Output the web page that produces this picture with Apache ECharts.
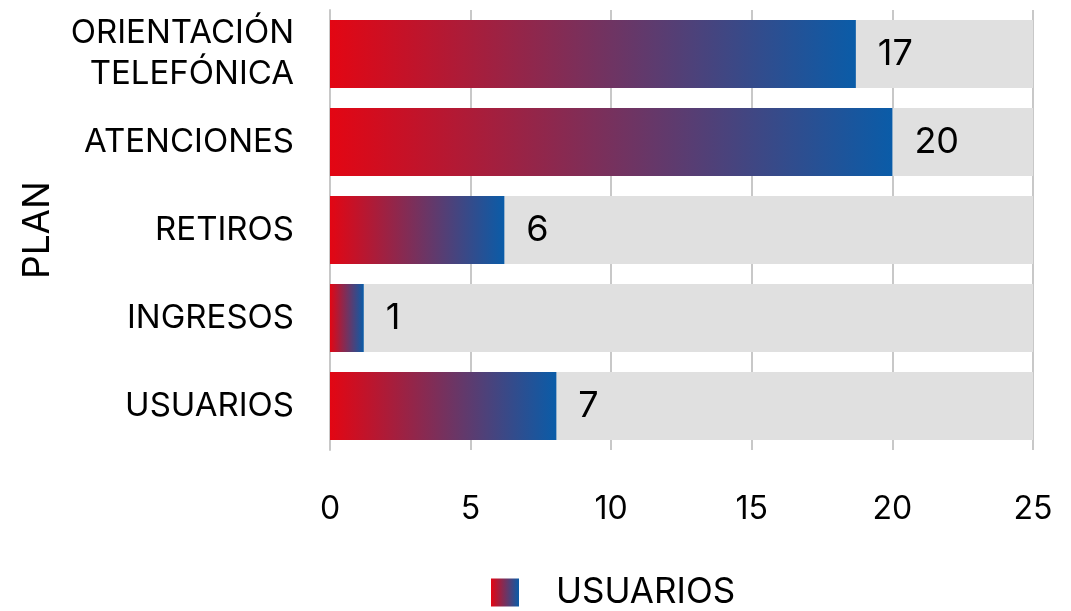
<!DOCTYPE html>
<html>
<head>
<meta charset="utf-8">
<script src="https://cdn.jsdelivr.net/npm/echarts@6/dist/echarts.min.js"></script>
<style>
  html, body { margin: 0; padding: 0; background: #fff; }
  #chart { width: 1071px; height: 611px; }
</style>
</head>
<body>
<div id="chart"></div>
<script>
// categories bottom -> top (category axis on y starts from the bottom)
const categories = ['USUARIOS', 'INGRESOS', 'RETIROS', 'ATENCIONES', 'ORIENTACIÓN\nTELEFÓNICA']
// bar lengths as drawn in the picture
const barValues = [8.05, 1.2, 6.2, 20, 18.7]
// numbers printed next to the bars
const barLabels = ['7', '1', '6', '20', '17']
const xTicks = [0, 5, 10, 15, 20, 25]
const seriesName = 'USUARIOS'

const font = 'Inter'
const gradient = new echarts.graphic.LinearGradient(0, 0, 1, 0, [
  { offset: 0, color: '#e30613' },
  { offset: 1, color: '#0a5ca8' }
])

let chart = echarts.init(document.getElementById('chart'))

let option = {
  animation: false,
  textStyle: { fontFamily: font },
  grid: {
    left: 330,
    right: 38,
    top: 10,
    height: 440
  },
  legend: {
    data: [seriesName],
    top: 575,
    left: 491,
    padding: 0,
    icon: 'rect',
    itemWidth: 28,
    itemHeight: 28,
    textStyle: {
      fontSize: 35,
      color: '#000',
      padding: [0, 0, 0, 32]
    }
  },
  xAxis: {
    type: 'value',
    min: xTicks[0],
    max: xTicks[xTicks.length - 1],
    interval: 5,
    axisLine: { show: false },
    axisTick: { show: false },
    axisLabel: {
      fontSize: 32,
      color: '#000',
      margin: 43
    },
    splitLine: {
      lineStyle: { color: '#c8c8c8', width: 2 }
    }
  },
  yAxis: {
    type: 'category',
    data: categories,
    name: 'PLAN',
    nameLocation: 'middle',
    nameGap: 274,
    nameTextStyle: { fontSize: 37, color: '#000' },
    axisLine: { show: true, lineStyle: { color: '#c8c8c8', width: 2 } },
    axisTick: { show: false },
    axisLabel: {
      fontSize: 33,
      color: '#000',
      margin: 36,
      lineHeight: 41,
      padding: [5, 0, 0, 0],
      align: 'right'
    }
  },
  series: [
    {
      name: seriesName,
      type: 'bar',
      data: barValues,
      barCategoryGap: '23%',
      itemStyle: { color: gradient },
      showBackground: true,
      backgroundStyle: { color: '#e0e0e0' },
      label: {
        show: true,
        position: 'right',
        distance: 22,
        fontSize: 36,
        color: '#000',
        formatter: p => barLabels[p.dataIndex]
      }
    }
  ]
}

chart.setOption(option)
</script>
</body>
</html>
